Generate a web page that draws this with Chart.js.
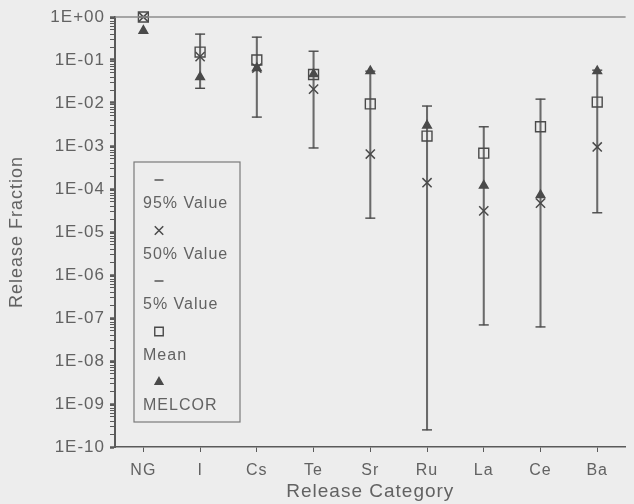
<!DOCTYPE html>
<html>
<head>
<meta charset="utf-8">
<script src="https://cdn.jsdelivr.net/npm/chart.js@4.4.1/dist/chart.umd.min.js"></script>
<style>
  html, body { margin: 0; padding: 0; background: #ededed; }
  #wrap { width: 634px; height: 504px; position: relative; }
</style>
</head>
<body>
<div id="wrap"><canvas id="c" width="634" height="504"></canvas></div>
<script>
// Release categories (x axis)
const categories = ['NG', 'I', 'Cs', 'Te', 'Sr', 'Ru', 'La', 'Ce', 'Ba'];
// Uncertainty distribution per category
const value95 = [1, 0.40, 0.34, 0.16, 0.055, 0.0085, 0.0028, 0.0123, 0.058];
const value50 = [1, 0.12, 0.065, 0.021, 6.5e-4, 1.4e-4, 3.1e-5, 4.7e-5, 9.5e-4];
const value5  = [1, 0.022, 0.0047, 9e-4, 2.1e-5, 2.5e-10, 6.9e-8, 6.2e-8, 2.8e-5];
const meanValue = [1, 0.153, 0.1, 0.046, 0.0095, 0.0017, 6.8e-4, 0.0028, 0.0105];
// MELCOR code results
const melcor = [0.48, 0.040, 0.065, 0.047, 0.055, 0.003, 1.2e-4, 7.2e-5, 0.055];
// Decade exponents for the y tick labels
const yDecades = [0, -1, -2, -3, -4, -5, -6, -7, -8, -9, -10];

const TEXT = '#626262';
const AXIS = '#5a5a5a';
const MARK = '#4a4a4a';
const RANGE = '#6a6a6a';
const FONT = '"Liberation Sans", Arial, Helvetica, sans-serif';

function decadeLabel(e) {
  return '1E' + (e >= 0 ? '+' : '-') + String(Math.abs(e)).padStart(2, '0');
}
function isDecade(v) {
  const e = Math.log10(v);
  return Math.abs(e - Math.round(e)) < 1e-6;
}

const pointBase = { type: 'line', showLine: false, clip: false, pointBorderColor: MARK, pointBackgroundColor: MARK, pointBorderWidth: 1.4 };

const datasets = [
  { type: 'bar', label: 'range', data: categories.map((_, i) => [value5[i], value95[i]]),
    backgroundColor: RANGE, borderWidth: 0, barThickness: 1.4, order: 10 },
  Object.assign({}, pointBase, { label: '95% Value', data: value95, pointStyle: 'line', pointRadius: 5, order: 5 }),
  Object.assign({}, pointBase, { label: '50% Value', data: value50, pointStyle: 'crossRot', pointRadius: 6.5, pointBorderWidth: 1.5, order: 4 }),
  Object.assign({}, pointBase, { label: '5% Value', data: value5, pointStyle: 'line', pointRadius: 5, order: 3 }),
  Object.assign({}, pointBase, { label: 'Mean', data: meanValue, pointStyle: 'rect', pointRadius: 7, pointBackgroundColor: 'rgba(0,0,0,0)', order: 2 }),
  Object.assign({}, pointBase, { label: 'MELCOR', data: melcor, pointStyle: 'triangle', pointRadius: 5, order: 1 })
];

// Line along the top edge of the plot and slightly wider letter spacing for text
const framePlugin = {
  id: 'frame',
  beforeDraw(chart) {
    chart.ctx.letterSpacing = '1px';
  },
  afterDraw(chart) {
    const { ctx, chartArea } = chart;
    ctx.save();
    ctx.strokeStyle = '#8c8c8c';
    ctx.lineWidth = 1.5;
    ctx.beginPath();
    ctx.moveTo(chartArea.left, chartArea.top);
    ctx.lineTo(chartArea.right, chartArea.top);
    ctx.stroke();
    ctx.restore();
  }
};

// Legend box with the marker above each label
const legendPlugin = {
  id: 'stackedLegend',
  afterDraw(chart) {
    const ctx = chart.ctx;
    const box = { x: 134, y: 162, w: 106, h: 260 };
    ctx.save();
    ctx.strokeStyle = '#7a7a7a';
    ctx.lineWidth = 1.2;
    ctx.strokeRect(box.x, box.y, box.w, box.h);
    const entries = chart.data.datasets.filter(d => d.type === 'line');
    entries.forEach((ds, i) => {
      const my = box.y + 18 + i * 50.5;
      const ty = box.y + 42 + i * 50.5;
      ctx.strokeStyle = ds.pointBorderColor;
      ctx.fillStyle = ds.pointBackgroundColor;
      ctx.lineWidth = ds.pointBorderWidth;
      const r = ds.pointStyle === 'rect' ? 6 : (ds.pointStyle === 'crossRot' ? 6 : 4.5);
      Chart.helpers.drawPoint(ctx, { pointStyle: ds.pointStyle, rotation: 0, radius: r, borderWidth: ds.pointBorderWidth }, box.x + 25, my);
      ctx.fillStyle = TEXT;
      ctx.font = '16px ' + FONT;
      ctx.textBaseline = 'middle';
      ctx.textAlign = 'left';
      ctx.fillText(ds.label, box.x + 9, ty);
    });
    ctx.restore();
  }
};

new Chart(document.getElementById('c'), {
  type: 'bar',
  data: { labels: categories, datasets },
  options: {
    responsive: false,
    animation: false,
    layout: { padding: { left: 0, top: 17, right: 0, bottom: 0 } },
    plugins: { legend: { display: false }, tooltip: { enabled: false } },
    scales: {
      x: {
        type: 'category',
        offset: true,
        grid: { display: true, drawOnChartArea: false, offset: false, tickLength: 5, tickColor: AXIS, tickWidth: 1 },
        border: { color: AXIS, width: 1.5 },
        ticks: { color: TEXT, font: { family: FONT, size: 16 }, padding: 9, autoSkip: false, maxRotation: 0 },
        title: { display: true, text: 'Release Category', color: TEXT, font: { family: FONT, size: 19 }, padding: { top: 0, bottom: 1 } },
        afterFit(scale) { scale.height = 57; }
      },
      y: {
        type: 'logarithmic',
        min: 1e-10,
        max: 1,
        afterBuildTicks(scale) {
          const ticks = [];
          for (let e = -10; e <= 0; e++) {
            for (let k = 1; k <= 9; k++) {
              if (e === 0 && k > 1) break;
              ticks.push({ value: k * Math.pow(10, e) });
            }
          }
          scale.ticks = ticks;
        },
        grid: {
          display: true, drawOnChartArea: false, tickLength: 5, tickColor: AXIS,
          tickWidth: (c) => (c.tick && isDecade(c.tick.value)) ? 2.5 : 1
        },
        border: { color: AXIS, width: 2 },
        ticks: {
          color: TEXT, font: { family: FONT, size: 17 }, padding: 5, autoSkip: false,
          callback: (v) => {
            if (!isDecade(v)) return '';
            const e = Math.round(Math.log10(v));
            return yDecades.includes(e) ? decadeLabel(e) : '';
          }
        },
        title: { display: true, text: 'Release Fraction', color: TEXT, font: { family: FONT, size: 18 }, padding: { top: 6, bottom: 0 } },
        afterFit(scale) { scale.width = 115; }
      }
    }
  },
  plugins: [framePlugin, legendPlugin]
});
</script>
</body>
</html>
